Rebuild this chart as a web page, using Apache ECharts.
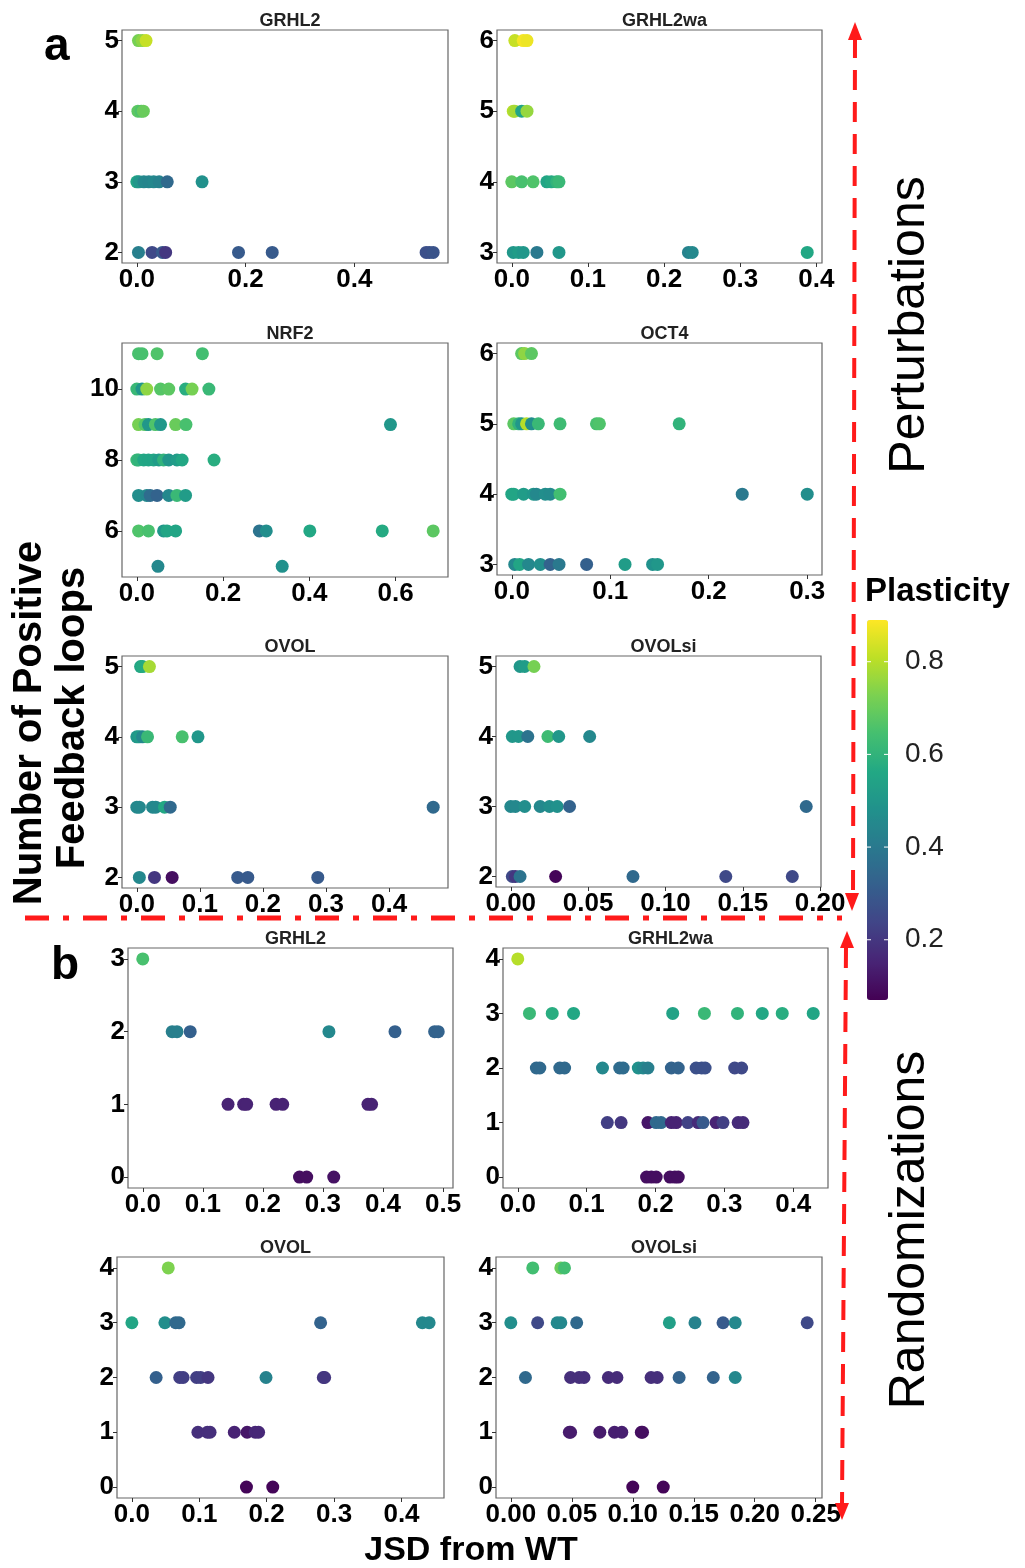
<!DOCTYPE html>
<html>
<head>
<meta charset="utf-8">
<title>Positive feedback loops vs JSD</title>
<script src="https://cdn.jsdelivr.net/npm/echarts@6/dist/echarts.min.js"></script>
<style>
  html, body { margin: 0; padding: 0; background: #fff; }
  #chart { width: 1025px; height: 1568px; }
</style>
</head>
<body>
<div id="chart"></div>
<script>
// each point: [JSD from WT, number of positive feedback loops, plasticity]
var aGRHL2 = [
  [0.003,5,0.72],[0.010,5,0.75],[0.017,5,0.82],
  [0.002,4,0.68],[0.008,4,0.66],[0.012,4,0.70],
  [0.000,3,0.55],[0.004,3,0.50],[0.013,3,0.45],[0.022,3,0.44],[0.031,3,0.45],[0.041,3,0.43],[0.056,3,0.35],[0.120,3,0.48],
  [0.003,2,0.42],[0.028,2,0.25],[0.047,2,0.30],[0.053,2,0.20],[0.187,2,0.30],[0.249,2,0.30],[0.532,2,0.27],[0.538,2,0.27],[0.545,2,0.28]
];
var aGRHL2wa = [
  [0.004,6,0.82],[0.015,6,0.88],[0.020,6,0.87],
  [0.002,5,0.80],[0.004,5,0.78],[0.013,5,0.55],[0.020,5,0.76],
  [0.000,4,0.68],[0.013,4,0.65],[0.028,4,0.66],[0.046,4,0.55],[0.052,4,0.57],[0.059,4,0.60],[0.062,4,0.62],
  [0.002,3,0.50],[0.009,3,0.52],[0.015,3,0.50],[0.033,3,0.40],[0.062,3,0.50],[0.232,3,0.43],[0.237,3,0.45],[0.388,3,0.56]
];
var aNRF2 = [
  [0.004,11,0.65],[0.012,11,0.65],[0.047,11,0.66],[0.152,11,0.64],
  [0.000,10,0.62],[0.012,10,0.50],[0.023,10,0.75],[0.055,10,0.67],[0.074,10,0.68],[0.113,10,0.58],[0.128,10,0.72],[0.167,10,0.62],
  [0.004,9,0.72],[0.019,9,0.67],[0.027,9,0.50],[0.043,9,0.66],[0.055,9,0.50],[0.090,9,0.70],[0.114,9,0.65],[0.588,9,0.50],
  [0.000,8,0.62],[0.004,8,0.60],[0.016,8,0.56],[0.027,8,0.55],[0.039,8,0.55],[0.051,8,0.52],[0.062,8,0.60],[0.074,8,0.50],[0.093,8,0.52],[0.105,8,0.56],[0.179,8,0.58],
  [0.004,7,0.47],[0.023,7,0.45],[0.031,7,0.36],[0.047,7,0.33],[0.074,7,0.45],[0.093,7,0.62],[0.113,7,0.52],
  [0.004,6,0.66],[0.027,6,0.65],[0.062,6,0.50],[0.070,6,0.55],[0.090,6,0.55],[0.284,6,0.38],[0.300,6,0.47],[0.401,6,0.56],[0.569,6,0.57],[0.687,6,0.68],
  [0.049,5,0.45],[0.337,5,0.48]
];
var aOCT4 = [
  [0.010,6,0.68],[0.013,6,0.75],[0.020,6,0.68],
  [0.002,5,0.68],[0.007,5,0.60],[0.010,5,0.50],[0.015,5,0.80],[0.020,5,0.47],[0.027,5,0.62],[0.049,5,0.63],[0.086,5,0.65],[0.089,5,0.66],[0.170,5,0.60],
  [0.000,4,0.55],[0.002,4,0.55],[0.012,4,0.52],[0.022,4,0.50],[0.025,4,0.45],[0.034,4,0.47],[0.039,4,0.46],[0.049,4,0.64],[0.234,4,0.40],[0.300,4,0.47],
  [0.003,3,0.45],[0.008,3,0.55],[0.017,3,0.45],[0.029,3,0.47],[0.039,3,0.33],[0.048,3,0.40],[0.076,3,0.32],[0.115,3,0.52],[0.143,3,0.48],[0.148,3,0.50]
];
var aOVOL = [
  [0.006,5,0.55],[0.009,5,0.57],[0.020,5,0.78],
  [0.000,4,0.50],[0.004,4,0.52],[0.009,4,0.45],[0.017,4,0.62],[0.072,4,0.65],[0.097,4,0.50],
  [0.000,3,0.45],[0.004,3,0.45],[0.025,3,0.45],[0.030,3,0.45],[0.044,3,0.56],[0.053,3,0.35],[0.470,3,0.35],
  [0.004,2,0.45],[0.028,2,0.20],[0.056,2,0.10],[0.160,2,0.30],[0.176,2,0.30],[0.287,2,0.30]
];
var aOVOLsi = [
  [0.006,5,0.50],[0.009,5,0.52],[0.015,5,0.72],
  [0.001,4,0.50],[0.005,4,0.50],[0.011,4,0.38],[0.024,4,0.63],[0.031,4,0.50],[0.051,4,0.45],
  [0.000,3,0.45],[0.003,3,0.45],[0.009,3,0.47],[0.019,3,0.45],[0.025,3,0.47],[0.030,3,0.48],[0.038,3,0.33],[0.191,3,0.35],
  [0.001,2,0.25],[0.003,2,0.20],[0.006,2,0.38],[0.029,2,0.08],[0.079,2,0.35],[0.139,2,0.25],[0.182,2,0.25]
];
var bGRHL2 = [
  [0.000,3,0.65],
  [0.049,2,0.42],[0.057,2,0.42],[0.079,2,0.32],[0.310,2,0.45],[0.420,2,0.32],[0.486,2,0.33],[0.492,2,0.33],
  [0.142,1,0.15],[0.168,1,0.15],[0.173,1,0.15],[0.222,1,0.15],[0.233,1,0.15],[0.375,1,0.15],[0.381,1,0.15],
  [0.261,0,0.10],[0.273,0,0.10],[0.318,0,0.11]
];
var bGRHL2wa = [
  [0.000,4,0.80],
  [0.017,3,0.62],[0.050,3,0.58],[0.081,3,0.56],[0.225,3,0.54],[0.271,3,0.62],[0.319,3,0.60],[0.355,3,0.56],[0.384,3,0.58],[0.429,3,0.55],
  [0.027,2,0.35],[0.032,2,0.35],[0.061,2,0.35],[0.068,2,0.35],[0.123,2,0.45],[0.148,2,0.36],[0.153,2,0.36],[0.175,2,0.48],[0.182,2,0.45],[0.189,2,0.42],
  [0.223,2,0.33],[0.233,2,0.33],[0.259,2,0.27],[0.267,2,0.27],[0.272,2,0.27],[0.315,2,0.25],[0.325,2,0.25],
  [0.130,1,0.22],[0.150,1,0.20],[0.189,1,0.12],[0.201,1,0.35],[0.208,1,0.35],[0.223,1,0.15],[0.230,1,0.15],[0.247,1,0.23],[0.262,1,0.17],[0.269,1,0.30],
  [0.288,1,0.15],[0.298,1,0.22],[0.320,1,0.17],[0.327,1,0.17],
  [0.187,0,0.10],[0.194,0,0.10],[0.201,0,0.10],[0.221,0,0.10],[0.228,0,0.10],[0.233,0,0.10]
];
var bOVOL = [
  [0.054,4,0.73],
  [0.000,3,0.55],[0.049,3,0.47],[0.065,3,0.35],[0.070,3,0.35],[0.280,3,0.33],[0.431,3,0.45],[0.441,3,0.45],
  [0.036,2,0.32],[0.071,2,0.22],[0.076,2,0.22],[0.096,2,0.22],[0.102,2,0.22],[0.113,2,0.20],[0.199,2,0.43],[0.284,2,0.20],[0.286,2,0.20],
  [0.098,1,0.18],[0.112,1,0.18],[0.116,1,0.18],[0.152,1,0.15],[0.171,1,0.12],[0.183,1,0.16],[0.188,1,0.16],
  [0.170,0,0.08],[0.209,0,0.08]
];
var bOVOLsi = [
  [0.018,4,0.64],[0.041,4,0.70],[0.044,4,0.64],
  [0.000,3,0.47],[0.022,3,0.25],[0.038,3,0.45],[0.041,3,0.45],[0.054,3,0.35],[0.130,3,0.53],[0.151,3,0.43],[0.174,3,0.30],[0.184,3,0.45],[0.243,3,0.25],
  [0.012,2,0.35],[0.049,2,0.18],[0.056,2,0.18],[0.060,2,0.18],[0.080,2,0.17],[0.087,2,0.17],[0.115,2,0.18],[0.120,2,0.18],[0.138,2,0.33],[0.166,2,0.33],[0.184,2,0.45],
  [0.048,1,0.13],[0.049,1,0.13],[0.073,1,0.13],[0.085,1,0.14],[0.091,1,0.14],[0.107,1,0.10],[0.108,1,0.10],
  [0.100,0,0.08],[0.125,0,0.08]
];

var colorTicks = [0.2, 0.4, 0.6, 0.8];
var plastMin = 0.07, plastMax = 0.89;
var viridis = ['#440154','#482475','#414487','#355f8d','#2a788e','#21918c','#22a884','#44bf70','#7ad151','#bddf26','#fde725'];

// panel layout: box = [left, top, width, height]
var panels = [
  {name: 'GRHL2',   data: aGRHL2,   box: [122, 30, 326, 233],  xTicks: [0, 0.2, 0.4],                yTicks: [2, 3, 4, 5],      dec: 1},
  {name: 'GRHL2wa', data: aGRHL2wa, box: [497, 30, 325, 233],  xTicks: [0, 0.1, 0.2, 0.3, 0.4],      yTicks: [3, 4, 5, 6],      dec: 1},
  {name: 'NRF2',    data: aNRF2,    box: [122, 343, 326, 234], xTicks: [0, 0.2, 0.4, 0.6],           yTicks: [6, 8, 10],        dec: 1},
  {name: 'OCT4',    data: aOCT4,    box: [497, 343, 325, 232], xTicks: [0, 0.1, 0.2, 0.3],           yTicks: [3, 4, 5, 6],      dec: 1},
  {name: 'OVOL',    data: aOVOL,    box: [122, 656, 326, 232], xTicks: [0, 0.1, 0.2, 0.3, 0.4],      yTicks: [2, 3, 4, 5],      dec: 1},
  {name: 'OVOLsi',  data: aOVOLsi,  box: [496, 656, 325, 231], xTicks: [0, 0.05, 0.1, 0.15, 0.2],    yTicks: [2, 3, 4, 5],      dec: 2},
  {name: 'GRHL2',   data: bGRHL2,   box: [128, 948, 325, 240], xTicks: [0, 0.1, 0.2, 0.3, 0.4, 0.5], yTicks: [0, 1, 2, 3],      dec: 1},
  {name: 'GRHL2wa', data: bGRHL2wa, box: [503, 948, 325, 240], xTicks: [0, 0.1, 0.2, 0.3, 0.4],      yTicks: [0, 1, 2, 3, 4],   dec: 1},
  {name: 'OVOL',    data: bOVOL,    box: [117, 1257, 327, 241], xTicks: [0, 0.1, 0.2, 0.3, 0.4],     yTicks: [0, 1, 2, 3, 4],   dec: 1},
  {name: 'OVOLsi',  data: bOVOLsi,  box: [496, 1257, 326, 241], xTicks: [0, 0.05, 0.1, 0.15, 0.2, 0.25], yTicks: [0, 1, 2, 3, 4], dec: 2}
];

var FONT = 'Liberation Sans, Arial, sans-serif';

function extent(data, k) {
  var lo = Infinity, hi = -Infinity;
  data.forEach(function (d) { lo = Math.min(lo, d[k]); hi = Math.max(hi, d[k]); });
  var pad = (hi - lo) * 0.05;
  return [lo - pad, hi + pad];
}

var grids = [], xAxes = [], yAxes = [], series = [], titles = [];
panels.forEach(function (p, i) {
  var b = p.box;
  var xr = extent(p.data, 0), yr = extent(p.data, 1);
  grids.push({left: b[0], top: b[1], width: b[2], height: b[3], show: true,
    borderColor: '#666', borderWidth: 1.2, backgroundColor: '#fff'});
  xAxes.push({
    type: 'value', gridIndex: i, min: xr[0], max: xr[1], position: 'bottom',
    splitLine: {show: false}, axisLine: {show: false, onZero: false},
    axisTick: {show: true, length: 4, lineStyle: {color: '#333'}, customValues: p.xTicks},
    axisLabel: {customValues: p.xTicks, margin: 4, fontSize: 26, fontWeight: 'bold', color: '#000', fontFamily: FONT,
      formatter: (function (dec) { return function (v) { return v.toFixed(dec); }; })(p.dec)}
  });
  yAxes.push({
    type: 'value', gridIndex: i, min: yr[0], max: yr[1], position: 'left',
    splitLine: {show: false}, axisLine: {show: false, onZero: false},
    axisTick: {show: true, length: 4, lineStyle: {color: '#333'}, customValues: p.yTicks},
    axisLabel: {customValues: p.yTicks, margin: 3, fontSize: 26, fontWeight: 'bold', color: '#000', fontFamily: FONT}
  });
  series.push({
    type: 'scatter', xAxisIndex: i, yAxisIndex: i, data: p.data,
    symbolSize: 13, encode: {x: 0, y: 1}, itemStyle: {opacity: 1}
  });
  titles.push({text: p.name, left: b[0] + b[2] / 2, top: b[1] - 23, textAlign: 'center',
    textStyle: {fontSize: 18, fontWeight: 'bold', color: '#222', fontFamily: FONT}});
});

// colour bar placement
var cbLeft = 867, cbTop = 620, cbW = 21, cbH = 380;
var graphics = [];
colorTicks.forEach(function (v) {
  var y = cbTop + (plastMax - v) / (plastMax - plastMin) * cbH;
  graphics.push({type: 'text', x: 905, y: y, z: 10,
    style: {text: v.toFixed(1), fontSize: 28, fill: '#222', fontFamily: FONT, verticalAlign: 'middle'}});
  graphics.push({type: 'line', z: 10, shape: {x1: cbLeft, y1: y, x2: cbLeft + 4, y2: y}, style: {stroke: '#fff', lineWidth: 1}});
  graphics.push({type: 'line', z: 10, shape: {x1: cbLeft + cbW - 4, y1: y, x2: cbLeft + cbW, y2: y}, style: {stroke: '#fff', lineWidth: 1}});
});

var red = '#ff1a1a';
graphics.push(
  {type: 'text', left: 865, top: 575, style: {text: 'Plasticity', fontSize: 33, fontWeight: 'bold', fill: '#000', fontFamily: FONT}},
  {type: 'text', left: 44, top: 24, style: {text: 'a', fontSize: 46, fontWeight: 'bold', fill: '#000', fontFamily: FONT}},
  {type: 'text', left: 51, top: 943, style: {text: 'b', fontSize: 46, fontWeight: 'bold', fill: '#000', fontFamily: FONT}},
  {type: 'text', x: 30, y: 723, rotation: Math.PI / 2,
    style: {text: 'Number of Positive', fontSize: 40, fontWeight: 'bold', fill: '#000', fontFamily: FONT, align: 'center', verticalAlign: 'middle'}},
  {type: 'text', x: 73, y: 718, rotation: Math.PI / 2,
    style: {text: 'Feedback loops', fontSize: 40, fontWeight: 'bold', fill: '#000', fontFamily: FONT, align: 'center', verticalAlign: 'middle'}},
  {type: 'text', x: 471, y: 1551,
    style: {text: 'JSD from WT', fontSize: 34, fontWeight: 'bold', fill: '#000', fontFamily: FONT, align: 'center', verticalAlign: 'middle'}},
  {type: 'text', x: 910, y: 325, rotation: Math.PI / 2,
    style: {text: 'Perturbations', fontSize: 50, fill: '#000', fontFamily: FONT, align: 'center', verticalAlign: 'middle'}},
  {type: 'text', x: 910, y: 1230, rotation: Math.PI / 2,
    style: {text: 'Randomizations', fontSize: 50, fill: '#000', fontFamily: FONT, align: 'center', verticalAlign: 'middle'}},
  // dashed arrows and separating dash-dot line
  {type: 'line', z: 20, shape: {x1: 855, y1: 38, x2: 853, y2: 895}, style: {stroke: red, lineWidth: 4, lineDash: [20, 12]}},
  {type: 'polygon', z: 20, shape: {points: [[855, 22], [848, 40], [862, 40]]}, style: {fill: red}},
  {type: 'polygon', z: 20, shape: {points: [[852, 911], [845, 893], [859, 893]]}, style: {fill: red}},
  {type: 'line', z: 20, shape: {x1: 846, y1: 948, x2: 842, y2: 1505}, style: {stroke: red, lineWidth: 4, lineDash: [20, 12]}},
  {type: 'polygon', z: 20, shape: {points: [[847, 931], [840, 948], [854, 948]]}, style: {fill: red}},
  {type: 'polygon', z: 20, shape: {points: [[842, 1520], [835, 1503], [849, 1503]]}, style: {fill: red}},
  {type: 'line', z: 20, shape: {x1: 25, y1: 918, x2: 842, y2: 918}, style: {stroke: red, lineWidth: 5, lineDash: [24, 14, 6, 14]}}
);

var chart = echarts.init(document.getElementById('chart'), null, {renderer: 'canvas'});
chart.setOption({
  backgroundColor: '#fff',
  animation: false,
  title: titles,
  grid: grids,
  xAxis: xAxes,
  yAxis: yAxes,
  visualMap: {
    type: 'continuous', min: plastMin, max: plastMax, dimension: 2,
    left: cbLeft, top: cbTop, itemWidth: cbW, itemHeight: cbH, padding: 0,
    calculable: false, showLabel: false, text: null,
    inRange: {color: viridis}
  },
  series: series,
  graphic: graphics
});
</script>
</body>
</html>
